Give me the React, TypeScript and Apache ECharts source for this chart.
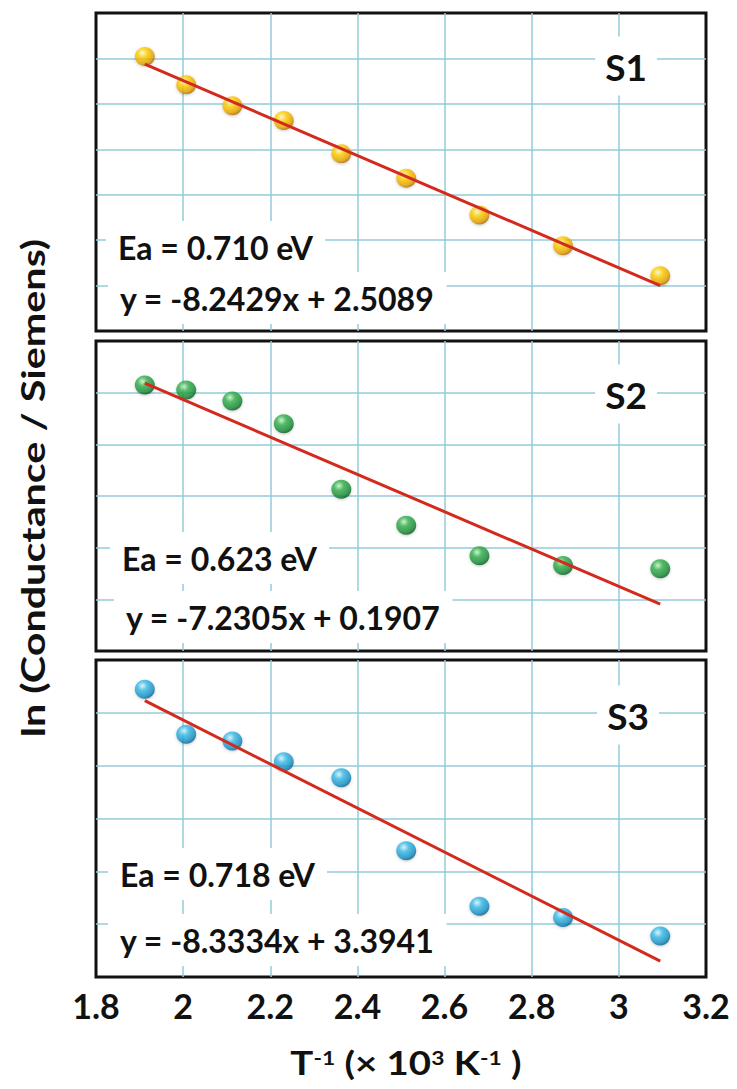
import React, { useEffect, useRef } from "react";
import * as echarts from "echarts";

// Inverse temperature (1000/T, K^-1) shared by all samples
const invT = [1.912, 2.007, 2.113, 2.231, 2.363, 2.512, 2.68, 2.872, 3.095];
// ln(conductance) values
const s1Values = [-12.91, -14.16, -15.08, -15.73, -17.2, -18.27, -19.89, -21.25, -22.57];
const s2Values = [-13.7, -13.9, -14.32, -15.2, -17.74, -19.13, -20.31, -20.69, -20.82];
const s3Values = [-12.11, -13.81, -14.07, -14.85, -15.46, -18.22, -20.32, -20.75, -21.45];
// linear fits shown in each panel
const fitSlopes = [-8.2429, -7.2305, -8.3334];
const fitIntercepts = [2.5089, 0.1907, 3.3941];
const sampleNames = ["S1", "S2", "S3"];
const eaLabels = ["Ea = 0.710 eV", "Ea = 0.623 eV", "Ea = 0.718 eV"];
const eqLabels = ["y = -8.2429x + 2.5089", "y = -7.2305x + 0.1907", "y = -8.3334x + 3.3941"];
// y ranges of the three panels (no tick labels shown)
const yMins = [-25, -24, -23];
const yMaxs = [-11, -12, -11];
const xMin = 1.8;
const xMax = 3.2;
const xStep = 0.2;
const yStep = 2;
// x-axis title pieces: [text, isSuperscript]
const xTitlePieces: [string, boolean][] = [
  ["T", false],
  ["-1", true],
  [" (× 10", false],
  ["3", true],
  [" K", false],
  ["-1", true],
  [" )", false],
];
const yTitle = "ln (Conductance / Siemens)";

const allValues = [s1Values, s2Values, s3Values];

// layout
const W = 737;
const H = 1089;
const GRID_LEFT = 96;
const GRID_RIGHT = 31;
const gridTops = [13, 341, 660];
const gridHeights = [318, 310, 317];
const sLabelPos = [[626, 66], [626, 394], [628, 715]];
const eaPos = [[118, 247], [122, 558], [120, 874]];
const eqPos = [[120, 298], [126, 617], [120, 940]];
const X_TITLE_CX = 406;
const X_TITLE_Y = 1063;
const X_TITLE_SUP_Y = 1057;
const X_TITLE_STRETCH = 1.2;

const FONT = "Lato, 'Open Sans', 'DejaVu Sans', sans-serif";
const GRID_COLOR = "#93cbd8";
const TITLE_FONT = `bold 32px ${FONT}`;
const SUP_FONT = `bold 19px ${FONT}`;

const ballColors = [
  ["#fffbd0", "#ffd000", "#e4a000", "#a86a00"],
  ["#c8f7c8", "#34b04c", "#178a36", "#0a5520"],
  ["#d8f7ff", "#3abbe8", "#158fc4", "#0a5d8c"],
];

function ball(c: string[]) {
  return new echarts.graphic.RadialGradient(0.38, 0.32, 0.7, [
    { offset: 0, color: c[0] },
    { offset: 0.35, color: c[1] },
    { offset: 0.8, color: c[2] },
    { offset: 1, color: c[3] },
  ]);
}

function measure(text: string, font: string): number {
  const canvas = document.createElement("canvas");
  const ctx = canvas.getContext("2d");
  if (!ctx) return text.length * 16;
  ctx.font = font;
  return ctx.measureText(text).width;
}

export default function App() {
  const ref = useRef<HTMLDivElement>(null);
  useEffect(() => {
    if (!ref.current) return;
    const chart = echarts.init(ref.current, undefined, { renderer: "svg" });

    const grids = gridTops.map((t, i) => ({
      left: GRID_LEFT,
      right: GRID_RIGHT,
      top: t,
      height: gridHeights[i],
      show: true,
      borderColor: "#111",
      borderWidth: 3,
      backgroundColor: "#fff",
    }));

    const xAxes = gridTops.map((_, i) => ({
      type: "value",
      gridIndex: i,
      min: xMin,
      max: xMax,
      interval: xStep,
      axisLine: { show: false },
      axisTick: { show: false },
      axisLabel: {
        show: i === 2,
        fontFamily: FONT,
        fontWeight: "bold",
        fontSize: 34,
        color: "#111",
        margin: 11,
        showMinLabel: true,
        showMaxLabel: true,
      },
      splitLine: {
        show: true,
        showMinLine: false,
        showMaxLine: false,
        lineStyle: { color: GRID_COLOR, width: 1.5 },
      },
    }));

    const yAxes = gridTops.map((_, i) => ({
      type: "value",
      gridIndex: i,
      min: yMins[i],
      max: yMaxs[i],
      interval: yStep,
      axisLine: { show: false },
      axisTick: { show: false },
      axisLabel: { show: false },
      splitLine: {
        show: true,
        showMinLine: false,
        showMaxLine: false,
        lineStyle: { color: GRID_COLOR, width: 1.5 },
      },
    }));

    const series: any[] = [];
    allValues.forEach((vals, i) => {
      series.push({
        type: "scatter",
        xAxisIndex: i,
        yAxisIndex: i,
        data: invT.map((x, k) => [x, vals[k]]),
        symbol: "circle",
        symbolSize: [20, 19],
        z: 3,
        itemStyle: {
          color: ball(ballColors[i]),
          shadowColor: "rgba(0,0,0,0.25)",
          shadowBlur: 3,
          shadowOffsetY: 1,
        },
      });
      const x0 = invT[0];
      const x1 = invT[invT.length - 1];
      series.push({
        type: "line",
        xAxisIndex: i,
        yAxisIndex: i,
        data: [
          [x0, fitSlopes[i] * x0 + fitIntercepts[i]],
          [x1, fitSlopes[i] * x1 + fitIntercepts[i]],
        ],
        symbol: "none",
        z: 4,
        lineStyle: { color: "#d42a1e", width: 3 },
      });
    });

    const graphics: any[] = [];
    gridTops.forEach((_, i) => {
      graphics.push({
        type: "text",
        x: sLabelPos[i][0],
        y: sLabelPos[i][1],
        z: 10,
        style: {
          text: sampleNames[i],
          font: `bold 37px ${FONT}`,
          fill: "#111",
          align: "center",
          verticalAlign: "middle",
          backgroundColor: "#fff",
          padding: [11, 10],
        },
      });
      graphics.push({
        type: "text",
        x: eaPos[i][0] - 12,
        y: eaPos[i][1],
        z: 10,
        style: {
          text: eaLabels[i],
          font: `bold 32px ${FONT}`,
          fill: "#111",
          align: "left",
          verticalAlign: "middle",
          backgroundColor: "#fff",
          padding: [10, 12],
        },
      });
      graphics.push({
        type: "text",
        x: eqPos[i][0] - 12,
        y: eqPos[i][1],
        z: 10,
        style: {
          text: eqLabels[i],
          font: `bold 32px ${FONT}`,
          fill: "#111",
          align: "left",
          verticalAlign: "middle",
          backgroundColor: "#fff",
          padding: [10, 12],
        },
      });
    });

    // x-axis title built from pieces with superscripts
    const widths = xTitlePieces.map(
      ([t, sup]) => measure(t, sup ? SUP_FONT : TITLE_FONT) * X_TITLE_STRETCH
    );
    const total = widths.reduce((a, b) => a + b, 0);
    let cursor = X_TITLE_CX - total / 2;
    xTitlePieces.forEach(([t, sup], k) => {
      graphics.push({
        type: "text",
        x: cursor,
        y: sup ? X_TITLE_SUP_Y : X_TITLE_Y,
        scaleX: X_TITLE_STRETCH,
        z: 10,
        style: {
          text: t,
          font: sup ? SUP_FONT : TITLE_FONT,
          fill: "#111",
          align: "left",
          verticalAlign: "middle",
        },
      });
      cursor += widths[k];
    });

    graphics.push({
      type: "text",
      x: 33,
      y: 488,
      rotation: Math.PI / 2,
      scaleX: 1.29,
      z: 10,
      style: {
        text: yTitle,
        font: `bold 32px ${FONT}`,
        fill: "#111",
        align: "center",
        verticalAlign: "middle",
      },
    });

    chart.setOption({
      animation: false,
      backgroundColor: "#fff",
      grid: grids,
      xAxis: xAxes,
      yAxis: yAxes,
      series,
      graphic: graphics,
    });
    return () => chart.dispose();
  }, []);
  return (
    <div
      ref={ref}
      style={{ position: "fixed", left: 0, top: 0, width: W, height: H, background: "#fff" }}
    />
  );
}
